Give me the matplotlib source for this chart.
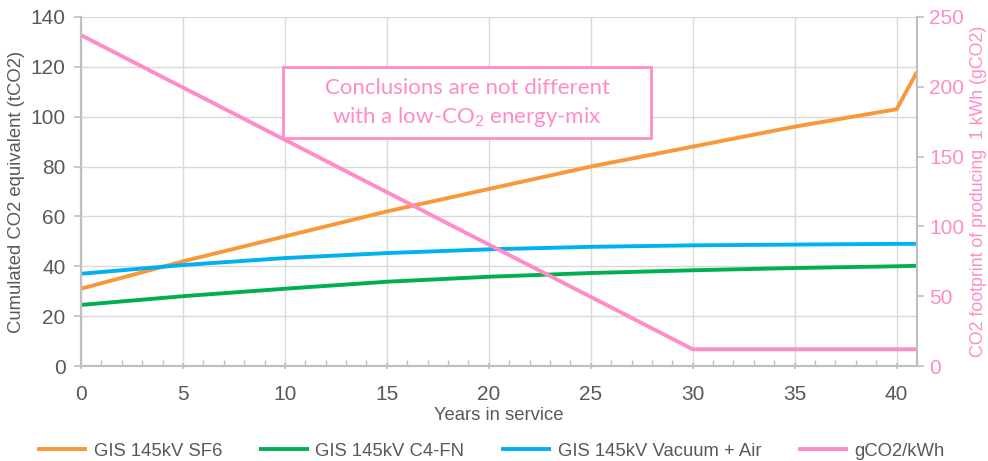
import matplotlib
matplotlib.use("Agg")
import matplotlib.pyplot as plt
from matplotlib.patches import Rectangle
from matplotlib.ticker import MultipleLocator

plt.rcParams['font.family'] = ['Liberation Sans', 'DejaVu Sans']
plt.rcParams['mathtext.fontset'] = 'custom'
plt.rcParams['mathtext.rm'] = 'Lato'

years = [0, 5, 10, 15, 20, 25, 30, 35, 40, 41]
sf6 = [31, 42, 52, 62, 71, 80, 88, 96, 103, 118]
c4fn = [24.5, 28, 31, 33.8, 35.8, 37.3, 38.4, 39.3, 40, 40.2]
vac_air = [37, 40.5, 43.3, 45.3, 46.8, 47.8, 48.4, 48.7, 49, 49]
mix_years = [0, 30, 41]
gco2 = [237, 12, 12]

labels = ["GIS 145kV SF6", "GIS 145kV C4-FN", "GIS 145kV Vacuum + Air", "gCO2/kWh"]

ORANGE = "#F7993A"
GREEN = "#00B050"
BLUE = "#00B0F0"
PINK = "#FF8CC6"
GRAY = "#595959"
SPINE = "#BFBFBF"
GRID = "#D9D9D9"

fig = plt.figure(figsize=(9.88, 4.61), dpi=100)
ax = fig.add_axes([81/988, 1-366/461, (917-81)/988, (366-17)/461])
ax2 = ax.twinx()

l1, = ax.plot(years, sf6, color=ORANGE, lw=2.8, label=labels[0], solid_capstyle='butt')
l2, = ax.plot(years, c4fn, color=GREEN, lw=2.8, label=labels[1], solid_capstyle='butt')
l3, = ax.plot(years, vac_air, color=BLUE, lw=2.8, label=labels[2], solid_capstyle='butt')
l4, = ax2.plot(mix_years, gco2, color=PINK, lw=2.8, label=labels[3], solid_capstyle='butt')

ax.set_xlim(0, 41)
ax.set_ylim(0, 140)
ax2.set_ylim(0, 250)
ax.set_yticks(range(0, 141, 20))
ax2.set_yticks(range(0, 251, 50))
ax.xaxis.set_major_locator(MultipleLocator(5))
ax.xaxis.set_minor_locator(MultipleLocator(1))

ax.grid(True, which='major', color=GRID, lw=1)
ax.set_axisbelow(True)

for a in (ax, ax2):
    a.spines['top'].set_visible(False)
    for s in ('left', 'right', 'bottom'):
        a.spines[s].set_color(SPINE)
        a.spines[s].set_linewidth(1.5)

ax.tick_params(axis='y', colors=GRAY, labelsize=15, length=5, width=1.2, color=SPINE, pad=6)
ax.tick_params(axis='x', which='major', colors=GRAY, labelsize=15, length=5, width=1.2, color=SPINE, pad=11, direction='inout')
ax.tick_params(axis='x', which='minor', length=4, width=1.0, color=SPINE, direction='in')
ax2.tick_params(axis='y', colors=PINK, labelsize=15, length=5, width=1.2, color=SPINE, pad=4)

ax.set_xlabel("Years in service", color=GRAY, fontsize=13.3, labelpad=2)
ax.set_ylabel("Cumulated CO2 equivalent (tCO2)", color=GRAY, fontsize=13.3, labelpad=4)
ax2.set_ylabel("CO2 footprint of producing  1 kWh (gCO2)", color=PINK, fontsize=12.8, labelpad=4)

leg = fig.legend(handles=[l1, l2, l3, l4], labels=labels, loc='center', ncol=4,
                 bbox_to_anchor=(0.497, 1-451/461), frameon=False, fontsize=13.3,
                 handlelength=2.7, columnspacing=2.0, handletextpad=0.35)
for t in leg.get_texts():
    t.set_color(GRAY)

# annotation box
rect = Rectangle((283/988, 1-138/461), (651-283)/988, (138-67)/461, transform=fig.transFigure,
                 facecolor='white', edgecolor=PINK, lw=2, zorder=5)
fig.add_artist(rect)
fig.text(467/988, 1-88/461, "Conclusions are not different", color=PINK, fontsize=16,
         family='Lato', ha='center', va='center', zorder=6)
fig.text(467/988, 1-117/461, r"with a low-CO$_{\mathrm{2}}$ energy-mix", color=PINK, fontsize=16,
         family='Lato', ha='center', va='center', zorder=6)

fig.savefig("out.png", dpi=100)
